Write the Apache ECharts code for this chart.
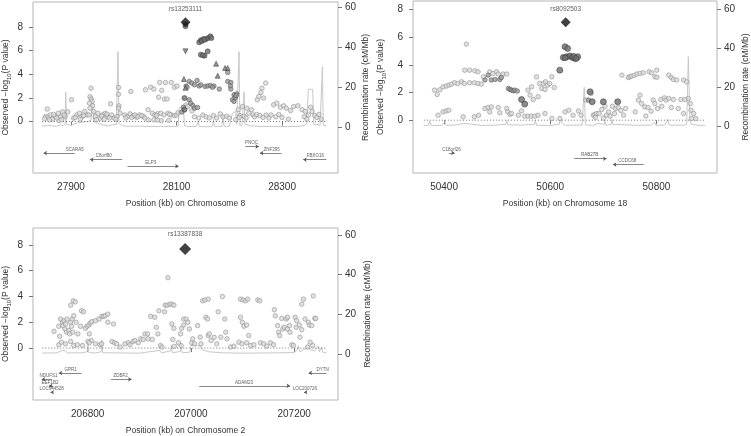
<!DOCTYPE html>
<html>
<head>
<meta charset="utf-8">
<script src="https://cdn.jsdelivr.net/npm/echarts@6/dist/echarts.min.js"></script>
<style>html,body{margin:0;padding:0;background:#fff;}#c{width:751px;height:436px;}</style>
</head>
<body>
<div id="c"></div>
<script>
// ---------- DATA ----------
const yTicks = [0, 2, 4, 6, 8];
const rTicks = [0, 20, 40, 60];

// Panel 1: chromosome 8
const p1XTicks = [27900, 28100, 28300];
const p1TopName = 'rs13253111';
const p1Top = [[28117, 8.39]];
const p1Light = [
[27855,1.05],[27852,0.42],[27857,0.37],[27861,0.56],[27865,0.2],[27870,0.42],[27876,0.7],[27880,0.37],[27884,0.82],[27889,0.42],[27894,0.82],[27859,0.14],[27877,0.08],[27850,0.25],[27867,0.6],[27873,0.3],[27882,0.15],[27887,0.55],
[27901,1.84],[27905,0.28],[27911,0.56],[27916,0.7],[27921,0.42],[27926,0.85],[27930,0.56],[27908,0.35],[27918,0.2],[27924,0.5],
[27938,2.82],[27936,2.1],[27938,1.9],[27940,1.7],[27935,1.55],[27941,1.33],[27936,1.13],[27943,0.85],[27934,0.56],[27946,0.42],[27951,0.7],[27955,0.28],[27960,0.56],[27965,0.7],[27970,0.42],[27975,1.5],[27977,0.56],[27982,0.28],[27948,0.15],[27958,0.45],[27963,0.2],[27968,0.62],[27973,0.3],
[27990,2.88],[27990,2.3],[27991,1.33],[27990,1.13],[27987,0.42],[27993,0.7],[27985,0.2],
[28013.5,2.54],[28002,0.56],[28007,0.42],[28012,0.65],[28018,0.48],[28024,0.37],[28030,0.56],[28037,0.42],[28041,2.68],[28051,2.9],[28057,2.74],[28066,2.06],[28068,3.3],[28072,2.63],[28077,1.9],[28082,1.9],[28079,3.3],[28090,3.3],[28096,2.9],[28101,3.0],[28046,1.0],[28054,0.7],[28059,0.56],[28064,0.65],[28070,0.7],[28076,0.56],[28084,0.7],[28090,0.56],[28096,0.48],[28046,0.14],[28057,0.14],[28071,0.08],[28004,0.3],[28015,0.35],[28021,0.55],[28027,0.4],[28034,0.5],[28040,0.3],[28062,0.5],[28087,0.6],[28100,0.55],[28103,0.75],[28064,0.12],[28085,0.1],
[28118,1.4],[28121,1.25],[28129,0.9],[28134,0.4],[28142,0.3],[28150,0.55],[28156,0.4],[28162,0.3],[28170,0.5],[28176,0.3],[28183,0.65],[28188,0.4],[28195,0.45],[28200,0.3],
[28217,1.0],[28225,1.27],[28233,1.13],[28237,0.7],[28242,1.0],[28245,0.56],[28253,1.84],[28256,2.12],[28260,2.46],[28262,2.82],[28269,3.25],[28265,1.98],[28248,0.4],[28252,0.6],[28258,0.5],[28264,0.35],[28270,0.55],[28275,0.3],[28279,0.56],[28284,1.41],[28290,1.55],[28297,1.21],[28303,1.33],[28308,1.13],[28316,0.93],[28288,0.4],[28294,0.6],[28300,0.35],[28312,0.2],[28322,1.27],[28330,1.33],[28338,1.0],[28344,0.85],[28350,0.56],[28357,0.85],[28354,1.21],[28362,0.5],[28366,0.35],[28370,0.6],[28374,0.2],[28342,0.4],[28347,0.2],[28220,0.5],[28228,0.45],[28232,0.3],[28212,0.15],[28219,0.35]
];
const p1Mid = [
[28124,3.39],[28129,3.25],[28134,3.1],[28139,3.47],[28143,3.0],[28146,3.1],[28154,2.97],[28159,3.0],[28164,3.05],[28171,3.0],[28168,2.9],[28181,2.74],[28197,3.39],[28203,3.3],[28202,3.0],[28203,2.74],[28209,2.26],[28212,2.12],[28214,2.34],[28206,1.84],[28209,1.7],[28124,1.84],[28127,1.55],[28131,1.35],[28134,1.13],[28140,1.19],[28118,3.0],[28120,2.9],[28197,4.15],[28211,2.0],[28213,2.2],[28110,0.8],[28113,1.2]
];
const p1Dark = [
[28115,1.98],[28115,1.0],[28143,6.7],[28146,6.86],[28151,6.98],[28156,6.98],[28160,7.06],[28164,7.2],[28166,7.06],[28148,6.8],[28153,6.9],[28146,5.65],[28153,5.56],[28159,5.93],[28150,5.6],[28117,8.2],[28117,8.05]
];
const p1Tri = [[28114,3.59],[28175,4.89],[28192,4.52],[28197,4.52],[28178,3.87],[28117,2.85]];
const p1TriDown = [[28117,5.93]];
const p1Recomb = [
[27845,0.6],[27860,0.9],[27872,0.5],[27880,1.2],[27886,0.8],[27889,1.8],[27890,17.6],[27891.5,1.5],[27900,1.0],[27912,2.2],[27920,2.5],[27930,2.8],[27938,3.5],[27941,15.3],[27943,3.0],[27950,2.0],[27960,1.2],[27970,0.7],[27978,1.2],[27986,1.5],[27989,37.8],[27991,1.8],[27998,0.8],[28010,0.5],[28030,0.6],[28050,0.4],[28070,0.5],[28090,0.4],[28103,0.6],[28105,9.8],[28113,10],[28115,0.8],[28125,0.4],[28138,0.5],[28141,3],[28143,0.4],[28160,0.3],[28168,0.6],[28170,4],[28172,0.5],[28186,0.5],[28188,6],[28190,0.5],[28200,0.5],[28203,4],[28206,7],[28212,8],[28214,1.5],[28217,1.0],[28218.5,37.8],[28220,1.0],[28224,0.8],[28227,1.5],[28228,17.8],[28229.5,1.5],[28240,0.8],[28255,0.5],[28280,0.4],[28310,0.4],[28330,0.5],[28342,0.8],[28347,2],[28349.7,19],[28358,19],[28360,1.5],[28366,1.5],[28372,1.0],[28376.5,30.3],[28378,1.0],[28384,0.8]
];
// genes: name, start, end, strand (+1 right / -1 left), row, label x
const p1Genes = [
['SCARA5',27848,27907,-1,1,27907],['C8orf80',27936,27997,-1,2,27962],['ELP3',28007,28104,1,3,28051],
['PNOC',28230,28256,1,0,28242],['ZNF395',28258,28299,-1,1,28280],['FBXO16',28340,28384,-1,2,28363]
];

// Panel 2: chromosome 18
const p2XTicks = [50400, 50600, 50800];
const p2TopName = 'rs8092503';
const p2Top = [[50629, 7.06]];
const p2Light = [
[50382,2.17],[50387,1.86],[50392,2.2],[50398,2.4],[50404,2.46],[50409,2.53],[50414,2.6],[50420,2.7],[50426,2.65],[50433,2.77],[50438,2.65],[50442,5.49],[50439,3.61],[50448,3.61],[50458,3.57],[50464,3.49],[50474,3.13],[50486,3.49],[50492,3.37],[50499,3.49],[50502,3.33],[50511,3.33],[50518,3.33],[50448,2.7],[50457,2.7],[50464,2.65],[50470,2.6],
[50398,0.6],[50404,0.67],[50409,0.72],[50388.7,0.36],[50436,0.24],[50457,0.24],[50465,0.36],[50477,0.84],[50483,0.92],[50489,0.96],[50486,0.6],[50502,0.92],[50505,0.53],[50518,0.84],[50520,0.6],[50524,0.43],[50527,0.48],[50540,0.36],[50546,0.67],[50552,0.29],[50558,0.29],[50564,0.29],[50571,0.29],[50577,0.36],[50590,0.48],[50603,0.12],[50618,0.12],[50627.7,0.6],[50635,0.72],[50643,0.36],[50653,0.67],[50658,0.36],
[50558,2.17],[50562,1.81],[50565,2.41],[50568,1.49],[50574,3.13],[50577,1.69],[50580,2.65],[50584,2.29],[50587,2.65],[50590,2.22],[50591,2.77],[50595,2.53],[50599,2.65],[50603,3.13],[50607.5,2.36],
[50667,1.45],[50677,1.93],[50681,0.36],[50684,0.4],[50687,0.48],[50692,0.48],[50697,0.77],[50703,1.0],[50706,0.36],[50712.6,0.29],[50717,1.0],[50721,0.48],[50723,0.84],[50728,0.92],[50735,3.25],[50738,0.36],[50742,0.84],[50747,3.08],[50750,3.13],[50753,3.18],[50758,3.23],[50763,3.33],[50769,3.37],[50775,3.42],[50786,3.49],[50791,3.42],[50797,3.13],[50800.6,3.61],[50801,3.1],[50823,3.25],[50828,3.08],[50832,2.94],[50838,2.9],[50851,2.9],[50857,2.77],
[50766,1.45],[50769,1.81],[50772,1.2],[50778,0.96],[50784,0.92],[50793.7,1.45],[50797,1.2],[50802,0.84],[50808,1.49],[50810,1.0],[50815,1.61],[50818,1.45],[50823,1.57],[50828,0.92],[50832,1.49],[50841,0.84],[50846,1.49],[50851,0.48],[50854,1.49],[50860,1.57],[50865,0.72],[50866,0.12],[50870,0.48],[50874,0.12],[50863.5,1.2],[50685,0.2],[50700,0.15],[50710,0.6],[50733,0.7],[50760,0.6],[50780,0.3],[50790,0.65]
];
const p2Mid = [
[50477,2.9],[50483,3.25],[50489,2.9],[50496,2.94],[50505,2.94],[50508,3.08],[50521,2.29],[50524,2.22],[50527,2.17],[50530,2.12],[50533,2.17],[50538,2.1],[50672,1.45]
];
const p2Dark = [
[50627.7,5.3],[50632.7,5.18],[50624.5,4.53],[50631,4.58],[50637,4.63],[50641.5,4.53],[50646.5,4.46],[50651.6,4.58],[50628,4.5],[50644,4.6],[50649,4.45],[50618,3.61],[50546,1.49],[50552,1.16],[50675,2.05],[50679,1.33],[50700,1.33],[50727,1.33]
];
const p2Recomb = [
[50362,0.3],[50370,0.5],[50373,2.7],[50375,0.5],[50395,0.4],[50402,2.5],[50404,0.5],[50420,0.6],[50439,1.5],[50441,0.5],[50470,0.4],[50500,0.6],[50516,1.0],[50518,3],[50520,0.8],[50545,0.6],[50570,1.0],[50572,3.2],[50574,0.5],[50600,0.4],[50617,1.0],[50619,3.5],[50622,2],[50625,3],[50627,0.5],[50660,0.6],[50663,1],[50664,20],[50666,0.8],[50672,0.6],[50680,0.4],[50690,1.5],[50693,0.5],[50702,1],[50703,3],[50705,0.5],[50715,1],[50716,3.5],[50718,1],[50735,0.8],[50760,0.5],[50790,0.6],[50797,2],[50799,0.5],[50815,0.6],[50822,3.5],[50824,0.6],[50850,0.5],[50857,1],[50860,35.7],[50863,3],[50866,1],[50875,0.6],[50892,0.4]
];
const p2Genes = [
['C18orf26',50409,50420,1,0,50414],['RAB27B',50645,50706,1,1,50674],['CCDC68',50718,50776,-1,2,50745]
];

// Panel 3: chromosome 2
const p3XTicks = [206800, 207000, 207200];
const p3TopName = 'rs13387838';
const p3Top = [[206988.8, 7.67]];
const p3Light = [
[206734.7,1.3],[206744,1.69],[206745.6,0.92],[206747.5,2.25],[206751,2.0],[206752,1.74],[206754,2.12],[206756,1.48],[206757,1.87],[206759,1.23],[206760,2.25],[206763.5,1.36],[206765,1.1],[206767,2.0],[206770,2.25],[206768.6,1.69],[206771,1.23],[206772,3.66],[206776,3.58],[206767,3.32],[206773,2.5],[206777.6,2.0],[206781,1.1],[206786,1.69],[206788,2.89],[206792,2.81],[206795.5,1.53],[206798.7,1.69],[206802,1.79],[206805,1.94],[206808,2.05],[206803,1.1],[206807,0.59],[206815,2.12],[206822,2.25],[206827.5,2.46],[206831,2.46],[206834,2.5],[206839,2.63],[206839,2.0],[206850,1.87],
[206744,0.26],[206749,0.46],[206757,0.33],[206767,0.51],[206773,0.2],[206780,0.26],[206790,0.2],[206800.6,0.51],[206803,0.41],[206815,0.33],[206824,0.26],[206827,0.33],[206847,0.51],[206852,0.41],[206856,0.33],[206863,0.08],[206872,0.33],[206879,0.41],[206882,0.26],[206888,0.51],[206891.5,0.59],[206898,0.41],[206903,0.72],[206907.5,0.66],[206911,1.1],[206916,1.1],[206917,0.72],[206922,2.46],[206925,0.66],[206930,2.38],[206933,1.61],[206936,1.1],[206938,2.89],[206941,0.2],[206944,0.08],[206949,2.81],[206950,3.32],[206954,3.32],[206959,3.4],[206963,3.4],[206967,3.32],[206955.5,5.45],[206963,1.87],[206967,1.53],[206965,0.66],[206968,0.13],[206976,0.41],[206980,1.1],[206981,0.2],[206982,1.53],[206986,1.79],[206986,2.25],[206990.7,2.25],[206994,2.0],[206997,1.48],[207001.6,0.41],[207003.5,0.72],[207007,0.33],
[207013,1.74],[207018,0.84],[207019.5,0.33],[207022.7,3.66],[207027,3.73],[207033.6,3.79],[207029,2.38],[207032,2.25],[207033.6,0.97],[207035.5,1.1],[207039,0.59],[207045,0.84],[207050,0.33],[207052.8,2.81],[207058,0.84],[207061,3.99],[207065.6,2.25],[207067.5,1.23],[207070,0.72],[207077,0.08],[207083.5,0.15],[207096,3.79],[207101,3.73],[207106,3.66],[207110,3.79],[207096,2.38],[207099.5,2.0],[207102.7,1.69],[207108,1.79],[207112,0.97],[207093,0.46],[207099,0.33],[207108,0.41],[207115.5,0.2],[207122,0.26],[207129.6,3.73],[207133.4,3.66],[207134.7,0.41],[207141,0.33],[207147,0.15],[207154,0.41],[207160,0.26],[207161.6,2.97],[207163.5,2.5],[207168,1.74],[207170,1.23],[207172,0.97],[207176,2.3],[207178,1.48],[207181,1.61],[207184.6,2.25],[207187,2.38],[207187,1.48],[207191,1.74],[207192,1.23],[207195.5,0.26],[207198.7,0.2],[207202,2.38],[207204,1.61],[207205,2.12],[207210,1.79],[207211.5,0.84],[207214.7,1.43],[207214.7,3.4],[207218,3.79],[207221,2.25],[207227.5,2.0],[207229.4,1.79],[207234,1.74],[207237,4.04],[207240,2.3],[207242,2.3],[207236,0.2],[207231,0.46],[207226,0.08]
];
const p3Mid = [];
const p3Dark = [];
const p3Recomb = [
[206712,0.4],[206740,0.4],[206750,1.7],[206757,1.5],[206760,0.4],[206790,0.5],[206799,1.0],[206800.6,5.5],[206802,0.6],[206815,0.4],[206826,1.0],[206827.5,7],[206829,0.5],[206860,0.4],[206900,0.3],[206940,1.7],[206943,0.4],[206961,1.5],[206962,4.5],[206964,0.5],[206980,1.2],[206981,5],[206983,0.5],[206998,0.8],[207000,4.2],[207018,4.0],[207022,2],[207035,1],[207060,0.5],[207100,0.3],[207150,0.4],[207200,0.6],[207206,2],[207208,4],[207211,1],[207222,2.5],[207226,3.3],[207231,2],[207240,1.5],[207246.7,4],[207249,1],[207253,3.3],[207256,0.7],[207262.7,0.5]
];
const p3Genes = [
['GPR1',206744,206788,-1,0,206767],['DYTN',207228,207263,-1,0,207255],
['NDUFS1',206711,206731,-1,1,206724],['ZDBF2',206845,206885,1,1,206864],
['EEF1B2',206725,206733,-1,2,206727],['ADAM23',207016,207192,1,2,207103],
['LOC644528',206728,206731,-1,3,206730],['LOC200726',207219,207224,-1,3,207221]
];

// ---------- LAYOUT ----------
const FONT = '"Liberation Sans", Arial, Helvetica, sans-serif';
const panels = [
  {grid:{left:31,top:2,width:307,height:171}, x:[27828,28406], y:[-4.35,10.1], r:[-22.8,62.6], chrom:'8',
   xTicks:p1XTicks, top:p1Top, topName:p1TopName, light:p1Light, mid:p1Mid, dark:p1Dark, tri:p1Tri, triDown:p1TriDown,
   recomb:p1Recomb, genes:p1Genes, rowBase:-2.12, rowStep:0.55, lGap:21, rGap:23, topSize:10},
  {grid:{left:413,top:1,width:304,height:172}, x:[50341.5,50914], y:[-3.81,8.6], r:[-24,64.3], chrom:'18',
   xTicks:p2XTicks, top:p2Top, topName:p2TopName, light:p2Light, mid:p2Mid, dark:p2Dark, tri:[], triDown:[],
   recomb:p2Recomb, genes:p2Genes, rowBase:-2.36, rowStep:0.42, lGap:26, rGap:24, topSize:10},
  {grid:{left:31,top:228,width:307,height:174}, x:[206694,207285], y:[-4.02,9.3], r:[-23.35,63.5], chrom:'2',
   xTicks:p3XTicks, top:p3Top, topName:p3TopName, light:p3Light, mid:p3Mid, dark:p3Dark, tri:[], triDown:[],
   recomb:p3Recomb, genes:p3Genes, rowBase:-1.92, rowStep:0.5, lGap:21, rGap:25, topSize:12}
];

const grids = [], xAxes = [], yAxes = [], series = [];
const txt = '#333';
panels.forEach((p, i) => {
  grids.push(Object.assign({show:true, borderColor:'#b5b5b5', borderWidth:1, backgroundColor:'transparent', containLabel:false}, p.grid));
  xAxes.push({
    type:'value', gridIndex:i, min:p.x[0], max:p.x[1], position:'bottom',
    name:'Position (kb) on Chromosome ' + p.chrom, nameLocation:'middle', nameGap:26,
    nameTextStyle:{fontFamily:FONT, fontSize:8.5, color:txt},
    axisLine:{show:false}, splitLine:{show:false},
    axisTick:{show:true, length:4, customValues:p.xTicks, lineStyle:{color:'#777'}},
    axisLabel:{customValues:p.xTicks, formatter:v=>String(v), fontFamily:FONT, fontSize:10, color:txt, margin:9}
  });
  yAxes.push({
    type:'value', gridIndex:i, min:p.y[0], max:p.y[1], position:'left',
    name:'{t|Observed −log}{s|10}{t|(P value)}', nameLocation:'middle', nameGap:p.lGap,
    nameTextStyle:{fontFamily:FONT, color:txt, rich:{t:{fontSize:8.5, fontFamily:FONT, color:txt, lineHeight:12}, s:{fontSize:6, fontFamily:FONT, color:txt, lineHeight:12, verticalAlign:'bottom', padding:[5,0,0,0]}}},
    axisLine:{show:false}, splitLine:{show:false},
    axisTick:{show:true, length:4, customValues:yTicks, lineStyle:{color:'#777'}},
    axisLabel:{customValues:yTicks, fontFamily:FONT, fontSize:10, color:txt, margin:10}
  });
  yAxes.push({
    type:'value', gridIndex:i, min:p.r[0], max:p.r[1], position:'right',
    name:'Recombination rate (cM/Mb)', nameLocation:'middle', nameGap:p.rGap, nameRotate:90,
    nameTextStyle:{fontFamily:FONT, fontSize:8.5, color:txt},
    axisLine:{show:false}, splitLine:{show:false},
    axisTick:{show:true, length:4, customValues:rTicks, lineStyle:{color:'#777'}},
    axisLabel:{customValues:rTicks, fontFamily:FONT, fontSize:10, color:txt, margin:7}
  });
  const L = 2*i, R = 2*i+1;
  // recombination rate
  series.push({type:'line', xAxisIndex:i, yAxisIndex:R, data:p.recomb, symbol:'none', silent:true, z:1,
    lineStyle:{color:'#c8c8c8', width:1}});
  // dotted zero line spanning region
  const xs = p.recomb.map(d=>d[0]);
  series.push({type:'line', xAxisIndex:i, yAxisIndex:L, data:[[Math.min(...xs),0],[Math.max(...xs),0]], symbol:'none', silent:true, z:2,
    lineStyle:{color:'#555', width:0.8, type:[1,2]}});
  const sc = (data, sym, size, fill, border, z) => ({type:'scatter', xAxisIndex:i, yAxisIndex:L, data, symbol:sym, symbolSize:size, silent:true, z,
    itemStyle:{color:fill, borderColor:border, borderWidth:0.7}});
  series.push(sc(p.light, 'circle', 4.5, '#dadada', '#8a8a8a', 3));
  series.push(sc(p.mid, 'circle', 4.5, '#9a9a9a', '#555', 4));
  series.push(sc(p.dark, 'circle', i===1?6:5, '#6e6e6e', '#3a3a3a', 5));
  series.push(sc(p.tri, 'triangle', 5, '#777', '#444', 5));
  series.push(Object.assign(sc(p.triDown, 'triangle', 5, '#777', '#444', 5), {symbolRotate:180}));
  series.push({type:'scatter', xAxisIndex:i, yAxisIndex:L, data:p.top, symbol:'diamond', symbolSize:p.topSize, silent:true, z:6,
    itemStyle:{color:'#111'},
    label:{show:true, position:'top', distance:5, formatter:p.topName, fontFamily:FONT, fontSize:6.5, color:txt}});
  // genes
  series.push({type:'lines', coordinateSystem:'cartesian2d', xAxisIndex:i, yAxisIndex:L, silent:true, z:3,
    symbol:['none','arrow'], symbolSize:3.5,
    lineStyle:{color:'#555', width:0.7, opacity:1},
    data:p.genes.map(g=>{const y = p.rowBase - g[4]*p.rowStep; return {coords: g[3]>0 ? [[g[1],y],[g[2],y]] : [[g[2],y],[g[1],y]]};})
  });
  series.push({type:'scatter', xAxisIndex:i, yAxisIndex:L, symbolSize:0, silent:true, z:3,
    data:p.genes.map(g=>({name:g[0], value:[g[5], p.rowBase - g[4]*p.rowStep]})),
    label:{show:true, position:'top', distance:1, formatter:'{b}', fontFamily:FONT, fontSize:4.5, color:'#333'}});
});

const chart = echarts.init(document.getElementById('c'), null, {renderer:'canvas'});
chart.setOption({animation:false, backgroundColor:'#fff', grid:grids, xAxis:xAxes, yAxis:yAxes, series});
</script>
</body>
</html>
